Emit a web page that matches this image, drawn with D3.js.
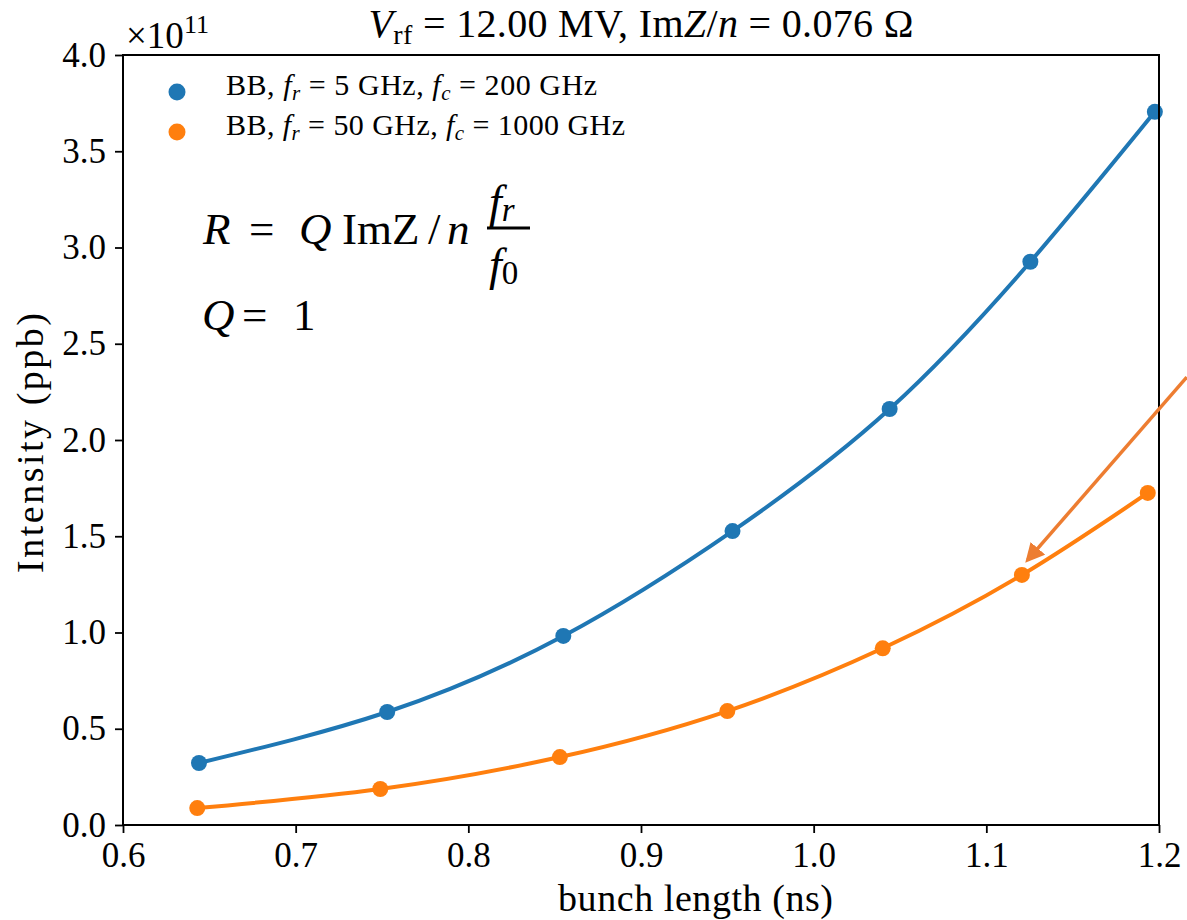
<!DOCTYPE html>
<html>
<head>
<meta charset="utf-8">
<script src="https://cdn.jsdelivr.net/npm/d3@7"></script>
<style>
  body { margin: 0; background: #fff; }
  text { font-family: "Liberation Serif", "Times New Roman", serif; fill: #000; }
</style>
</head>
<body>
<svg id="chart-svg" width="1187" height="920"></svg>
<script>
      // bunch length (ns) and intensity (units of 1e11 ppb)
      const bunchLengthBlue = [0.644, 0.753, 0.855, 0.953, 1.044, 1.1255, 1.1976];
      const intensityBlue = [0.322, 0.587, 0.982, 1.527, 2.161, 2.926, 3.705];
      const bunchLengthOrange = [0.643, 0.749, 0.853, 0.950, 1.040, 1.1206, 1.1935];
      const intensityOrange = [0.088, 0.187, 0.353, 0.592, 0.918, 1.299, 1.725];
      const xTicks = [0.6, 0.7, 0.8, 0.9, 1.0, 1.1, 1.2];
      const yTicks = [0.0, 0.5, 1.0, 1.5, 2.0, 2.5, 3.0, 3.5, 4.0];
      const seriesColors = ["#1f77b4", "#ff7f0e"];

      const svg = d3.select("#chart-svg");
      const margin = { top: 55, right: 28, bottom: 95, left: 123 };
      const width = 1187 - margin.left - margin.right;
      const height = 920 - margin.top - margin.bottom;

      const x = d3.scaleLinear().domain([0.6, 1.2]).range([margin.left, margin.left + width]);
      const y = d3.scaleLinear().domain([0, 4]).range([margin.top + height, margin.top]);

      const series = [
          { color: seriesColors[0], pts: bunchLengthBlue.map((b, i) => ({ b, v: intensityBlue[i] })) },
          { color: seriesColors[1], pts: bunchLengthOrange.map((b, i) => ({ b, v: intensityOrange[i] })) }
      ];

      const line = d3.line()
          .x(d => x(d.b))
          .y(d => y(d.v))
          .curve(d3.curveNatural);

      // fitted curves + points
      series.forEach(s => {
          svg.append("path")
              .datum(s.pts)
              .attr("fill", "none")
              .attr("stroke", s.color)
              .attr("stroke-width", 4)
              .attr("d", line);
          svg.selectAll(null)
              .data(s.pts)
              .enter()
              .append("circle")
              .attr("cx", d => x(d.b))
              .attr("cy", d => y(d.v))
              .attr("r", 8)
              .attr("fill", s.color);
      });

      // axes
      const xAxis = svg.append("g")
          .attr("transform", `translate(0, ${margin.top + height})`)
          .call(d3.axisBottom(x).tickValues(xTicks).tickFormat(d3.format(".1f")).tickSize(8).tickPadding(10));
      const yAxis = svg.append("g")
          .attr("transform", `translate(${margin.left}, 0)`)
          .call(d3.axisLeft(y).tickValues(yTicks).tickFormat(d3.format(".1f")).tickSize(8).tickPadding(9));
      [xAxis, yAxis].forEach(g => {
          g.select(".domain").remove();
          g.selectAll("line").attr("stroke", "#000").attr("stroke-width", 1.8);
          g.selectAll("text").attr("font-family", "Liberation Serif").attr("font-size", 35).attr("fill", "#000");
      });
      xAxis.selectAll("text").attr("dy", "0.69em");

      // frame
      svg.append("rect")
          .attr("x", margin.left)
          .attr("y", margin.top)
          .attr("width", width)
          .attr("height", height)
          .attr("fill", "none")
          .attr("stroke", "#000")
          .attr("stroke-width", 2);

      // offset label
      const off = svg.append("text").attr("x", 126).attr("y", 48).attr("font-size", 37);
      off.append("tspan").text("×10");
      off.append("tspan").attr("font-size", 26).attr("dy", -15).text("11");

      // title
      const title = svg.append("text")
          .attr("x", margin.left + width / 2)
          .attr("y", 37)
          .attr("text-anchor", "middle")
          .attr("font-size", 40)
          .attr("textLength", 545)
          .attr("lengthAdjust", "spacing");
      title.append("tspan").attr("font-style", "italic").text("V");
      title.append("tspan").attr("font-size", 28).attr("dy", 7).text("rf");
      title.append("tspan").attr("dy", -7).text(" = 12.00 MV, Im");
      title.append("tspan").attr("font-style", "italic").text("Z");
      title.append("tspan").text("/");
      title.append("tspan").attr("font-style", "italic").text("n");
      title.append("tspan").text(" = 0.076 Ω");

      // axis labels
      svg.append("text")
          .attr("x", 558)
          .attr("y", 911)
          .attr("font-size", 38)
          .attr("textLength", 275)
          .attr("lengthAdjust", "spacing")
          .text("bunch length (ns)");
      svg.append("text")
          .attr("transform", "rotate(-90)")
          .attr("x", -573)
          .attr("y", 43)
          .attr("font-size", 38)
          .attr("textLength", 260)
          .attr("lengthAdjust", "spacing")
          .text("Intensity (ppb)");

      // legend
      const legendRows = [
          { color: seriesColors[0], fr: "5", fc: "200", len: 371 },
          { color: seriesColors[1], fr: "50", fc: "1000", len: 399 }
      ];
      legendRows.forEach((r, i) => {
          const ly = 92 + i * 40;
          svg.append("circle").attr("cx", 177).attr("cy", ly).attr("r", 8.5).attr("fill", r.color);
          const t = svg.append("text")
              .attr("x", 226)
              .attr("y", ly + 3)
              .attr("font-size", 30)
              .attr("textLength", r.len)
              .attr("lengthAdjust", "spacing");
          t.append("tspan").text("BB, ");
          t.append("tspan").attr("font-style", "italic").text("f");
          t.append("tspan").attr("font-style", "italic").attr("font-size", 21).attr("dy", 5).text("r");
          t.append("tspan").attr("dy", -5).text(` = ${r.fr} GHz, `);
          t.append("tspan").attr("font-style", "italic").text("f");
          t.append("tspan").attr("font-style", "italic").attr("font-size", 21).attr("dy", 5).text("c");
          t.append("tspan").attr("dy", -5).text(` = ${r.fc} GHz`);
      });

      // formula annotation
      const fs = 45;
      const f1 = svg.append("text").attr("x", 203).attr("y", 244).attr("font-size", fs);
      f1.append("tspan").attr("font-style", "italic").text("R");
      f1.append("tspan").attr("x", 249).text("=");
      f1.append("tspan").attr("x", 299).attr("font-style", "italic").text("Q");
      f1.append("tspan").attr("x", 342).text("ImZ");
      f1.append("tspan").attr("x", 428).text("/");
      f1.append("tspan").attr("x", 447).attr("font-style", "italic").text("n");
      const num = svg.append("text").attr("x", 489).attr("y", 217).attr("font-size", 46);
      num.append("tspan").attr("font-style", "italic").text("f");
      num.append("tspan").attr("font-style", "italic").attr("font-size", 33).attr("dy", 4).text("r");
      svg.append("line")
          .attr("x1", 487).attr("x2", 530)
          .attr("y1", 228).attr("y2", 228)
          .attr("stroke", "#000").attr("stroke-width", 3);
      const den = svg.append("text").attr("x", 489).attr("y", 280).attr("font-size", 46);
      den.append("tspan").attr("font-style", "italic").text("f");
      den.append("tspan").attr("font-size", 33).attr("dy", 4).text("0");
      const f2 = svg.append("text").attr("x", 202).attr("y", 330).attr("font-size", fs);
      f2.append("tspan").attr("font-style", "italic").text("Q");
      f2.append("tspan").attr("x", 242).text("=");
      f2.append("tspan").attr("x", 293).text("1");

      // arrow pointing at the orange curve
      const arrowFrom = [1.2161, 2.327];
      const arrowTo = [1.124, 1.377];
      svg.append("defs").append("marker")
          .attr("id", "head")
          .attr("viewBox", "0 0 10 10")
          .attr("refX", 8)
          .attr("refY", 5)
          .attr("markerWidth", 5.5)
          .attr("markerHeight", 5.5)
          .attr("markerUnits", "strokeWidth")
          .attr("orient", "auto")
          .append("path")
          .attr("d", "M0,0 L10,5 L0,10 Z")
          .attr("fill", "#ed7d31");
      svg.append("line")
          .attr("x1", x(arrowFrom[0])).attr("y1", y(arrowFrom[1]))
          .attr("x2", x(arrowTo[0])).attr("y2", y(arrowTo[1]))
          .attr("stroke", "#ed7d31")
          .attr("stroke-width", 3.5)
          .attr("marker-end", "url(#head)");
</script>
</body>
</html>
